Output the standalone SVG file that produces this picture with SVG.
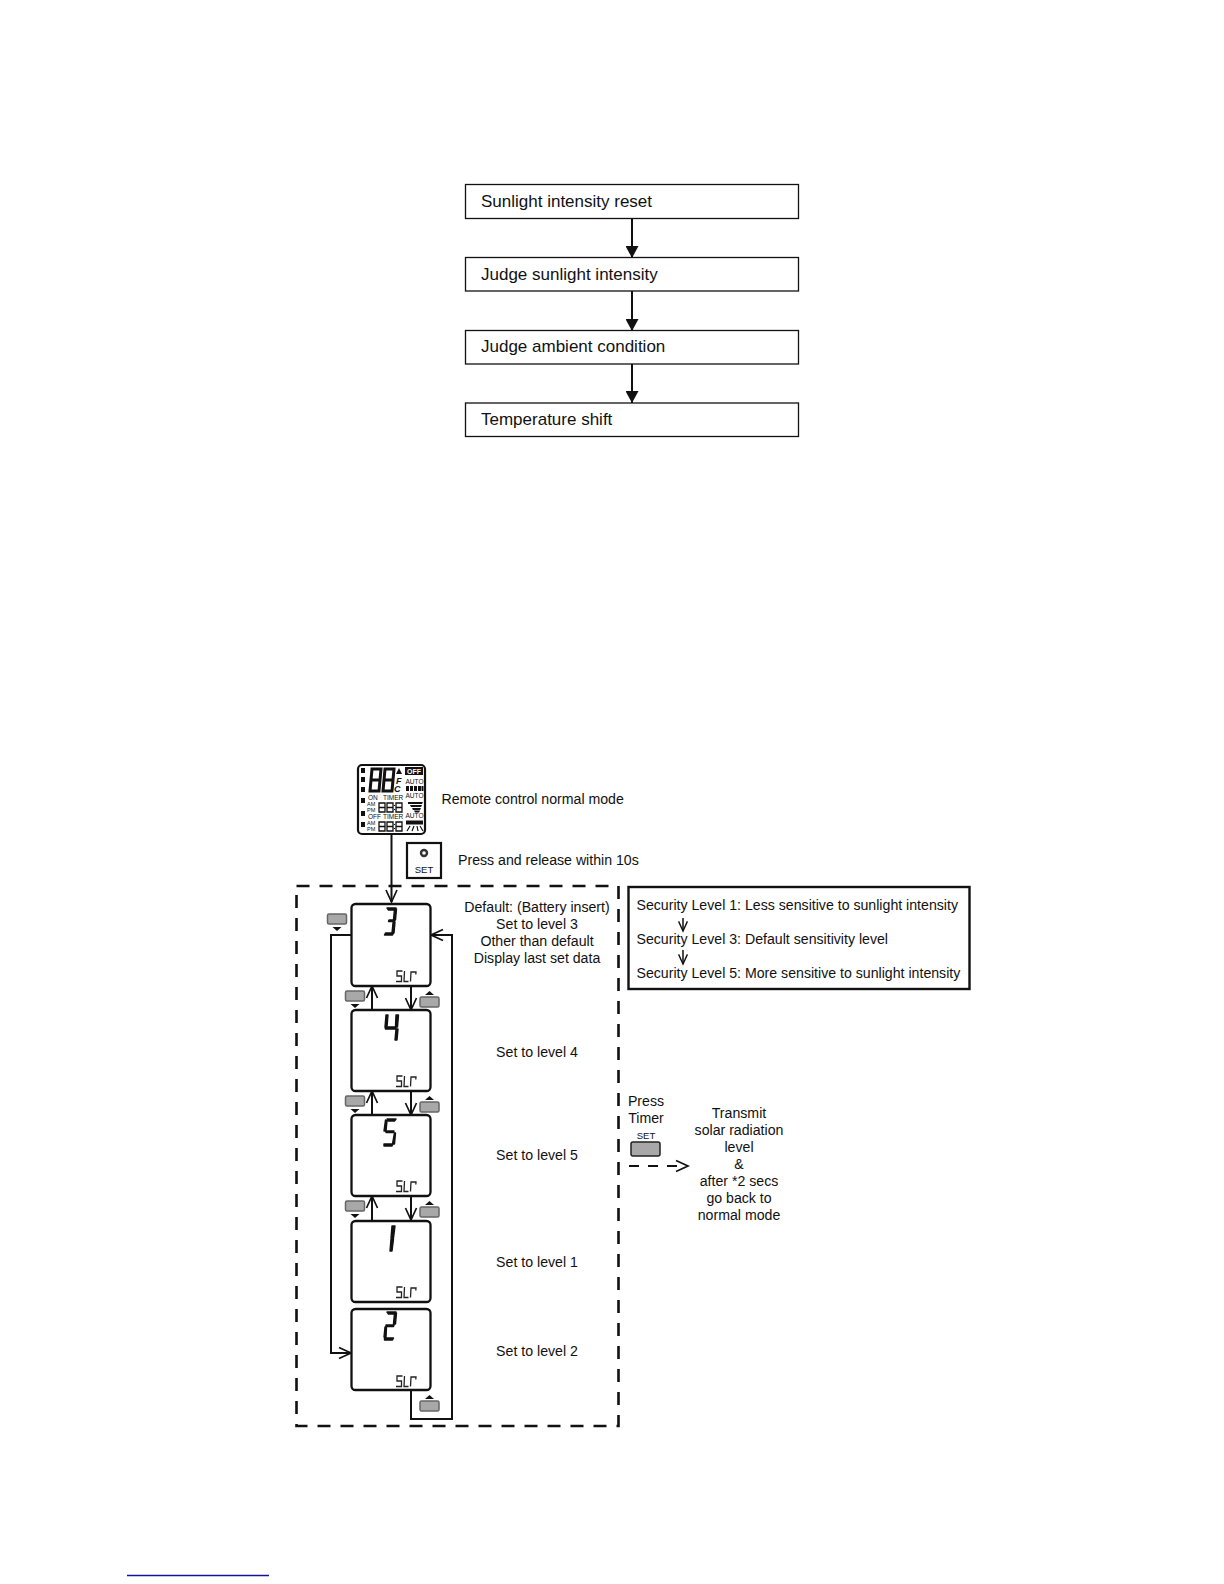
<svg xmlns="http://www.w3.org/2000/svg" width="1224" height="1584" viewBox="0 0 1224 1584">
<defs>
<style>
text{font-family:"Liberation Sans",Arial,sans-serif;fill:#111}
.t16{font-size:17px}
.t14{font-size:14.150px}
.m{text-anchor:middle}
.box{fill:#fff;stroke:#111;stroke-width:1.3}
.lcd{fill:#fff;stroke:#111;stroke-width:2.300}
.ln{fill:none;stroke:#111;stroke-width:2}
.seg{fill:#111}
.dig{fill:#111;stroke:#111;stroke-width:1.400;stroke-linejoin:round}
.slr{fill:none;stroke:#222;stroke-width:1.300}
.btn{fill:#a8a8a8;stroke:#666;stroke-width:1.500}
.tri{fill:#111}
.dash{fill:none;stroke:#111;stroke-width:2.600;stroke-dasharray:13 10}
.big{fill:none;stroke:#111;stroke-width:3}
.sm{fill:none;stroke:#111;stroke-width:1.300}
</style>
<marker id="solid" markerUnits="userSpaceOnUse" markerWidth="14" markerHeight="13" refX="12" refY="6.500" orient="auto"><path d="M0 0L12 6.500L0 13Z" fill="#111"/></marker>
<path id="open" d="M-5.500 -12L0 0L5.500 -12" fill="none" stroke="#111" stroke-width="1.700"/>
<g id="slr"><path class="slr" d="M6.500 0H1V5H5.500V10.500H0M8.500 0L8 10.500H12.500M14.500 10.500L15 1H20L19.800 3.500"/></g>
<g id="btnA"><rect class="btn" x="-9" y="-5" width="19" height="10" rx="1.500"/><path class="tri" d="M-4 -7L0.500 -11L5 -7Z"/></g>
<g id="btnV"><rect class="btn" x="-9" y="-5" width="19" height="10" rx="1.500"/><path class="tri" d="M-4 8L0.500 12L5 8Z"/></g>
</defs>
<rect width="1224" height="1584" fill="#fff"/>

<g id="connectors">
<path class="ln" d="M632 218V258" marker-end="url(#solid)"/>
<path class="ln" d="M632 291V331" marker-end="url(#solid)"/>
<path class="ln" d="M632 364V403" marker-end="url(#solid)"/>
<path class="ln" d="M391.500 834V902"/><use href="#open" x="391.500" y="902"/>
<path class="ln" d="M351 935H331V1353H351"/><use href="#open" transform="translate(351 1353) rotate(-90)"/>
<path class="ln" d="M411 1390V1419H452V935H431"/><use href="#open" transform="translate(431 935) rotate(90)"/>
<path class="ln" d="M372 1010V986"/><use href="#open" transform="translate(372 986) rotate(180)"/>
<path class="ln" d="M372 1115V1091"/><use href="#open" transform="translate(372 1091) rotate(180)"/>
<path class="ln" d="M372 1220V1196"/><use href="#open" transform="translate(372 1196) rotate(180)"/>
<path class="ln" d="M411 986V1010"/><use href="#open" x="411" y="1010"/>
<path class="ln" d="M411 1091V1115"/><use href="#open" x="411" y="1115"/>
<path class="ln" d="M411 1196V1220"/><use href="#open" x="411" y="1220"/>
<path d="M629 1166H686" fill="none" stroke="#111" stroke-width="1.800" stroke-dasharray="10 9"/><use href="#open" transform="translate(688 1166) rotate(-90)"/>
</g>

<g id="n1"><rect class="box" x="465.500" y="184.500" width="333" height="34"/><text class="t16" x="481" y="207">Sunlight intensity reset</text></g>
<g id="n2"><rect class="box" x="465.500" y="257.500" width="333" height="33.500"/><text class="t16" x="481" y="279.500">Judge sunlight intensity</text></g>
<g id="n3"><rect class="box" x="465.500" y="330.500" width="333" height="33.500"/><text class="t16" x="481" y="352">Judge ambient condition</text></g>
<g id="n4"><rect class="box" x="465.500" y="403" width="333" height="33.500"/><text class="t16" x="481" y="425">Temperature shift</text></g>

<g id="remote">
<rect x="358" y="765" width="67" height="69" rx="4" fill="#fff" stroke="#111" stroke-width="2.200"/>
<path class="seg" d="M361 768h4v5h-4zM361 777h4v5h-4zM361 787h4v5h-4zM361 798h4v5h-4zM361 811h4v5h-4zM361 822h4v5h-4z"/>
<path class="big" d="M372 769h9l-2 22h-9zM371 780h9M385 769h9l-2 22h-9zM384 780h9"/>
<path class="seg" d="M396 774l3-6 3 6z"/>
<text x="396" y="784" style="font-size:9px;font-style:italic;font-weight:bold">F</text>
<text x="394" y="792" style="font-size:9px;font-style:italic;font-weight:bold">C</text>
<rect x="405" y="767" width="18" height="8" fill="#111"/>
<text x="414" y="774" class="m" style="font-size:7px;fill:#fff;font-weight:bold">OFF</text>
<text x="414.500" y="784" class="m" style="font-size:6.500px">AUTO</text>
<path class="seg" d="M406 786h3v5h-3zM410 786h3v5h-3zM414 786h3v5h-3zM418 786h3v5h-3zM421.500 786h2v5h-2z"/>
<text x="368" y="800" style="font-size:6.500px">ON</text><text x="383" y="800" style="font-size:6.500px">TIMER</text>
<text x="414.500" y="798" class="m" style="font-size:6.500px">AUTO</text>
<path class="seg" d="M408 802h15l-1 2h-14zM410 805h12l-1 2h-10zM412 808h9l-1 2h-7zM414 810.500h6l-1 2h-4z"/>
<text x="367" y="805.500" style="font-size:5.500px">AM</text><text x="367" y="811.500" style="font-size:5.500px">PM</text>
<path class="sm" d="M379 803h6v9h-6zM379 807.500h6M387 803h6v9h-6zM387 807.500h6M396 803h6v9h-6zM396 807.500h6"/>
<path class="seg" d="M394 805h1v1h-1zM394 809h1v1h-1z"/>
<text x="368" y="819" style="font-size:6.500px">OFF</text><text x="383" y="819" style="font-size:6.500px">TIMER</text>
<text x="414.500" y="818" class="m" style="font-size:6.500px">AUTO</text>
<rect x="406" y="820.500" width="17" height="4" fill="#111"/>
<path d="M407 831l3-5M412 831l2-5M418 831l-1-5M423 831l-3-5" fill="none" stroke="#111" stroke-width="1.200"/>
<text x="367" y="825" style="font-size:5.500px">AM</text><text x="367" y="831" style="font-size:5.500px">PM</text>
<path class="sm" d="M379 822h6v9h-6zM379 826.500h6M387 822h6v9h-6zM387 826.500h6M396 822h6v9h-6zM396 826.500h6"/>
<path class="seg" d="M394 824h1v1h-1zM394 828h1v1h-1z"/>
</g>
<text class="t14" x="441.500" y="804">Remote control normal mode</text>

<g id="set-button">
<rect x="407" y="843" width="34" height="35" fill="#fff" stroke="#111" stroke-width="2.200"/>
<circle cx="424" cy="853" r="3" fill="none" stroke="#333" stroke-width="2.400"/>
<text x="424" y="873" class="m" style="font-size:9.500px">SET</text>
</g>
<text class="t14" x="458" y="865">Press and release within 10s</text>

<rect class="dash" x="296.500" y="886" width="322" height="540"/>

<g id="lvl3">
<rect class="lcd" x="351.500" y="904" width="79" height="82" rx="4"/>
<path class="dig" d="M387 908h9l-1.500 2h-6zM396.500 909l-1 11h-2l.8-9zM389 920h6l-.5 1.500h-6zM395 922l-1 11h-2l1-10zM385.500 933h8l-1 2h-8z"/>
<use href="#slr" x="396" y="971"/>
</g>
<g id="lvl4">
<rect class="lcd" x="351.500" y="1010" width="79" height="81" rx="4"/>
<path class="dig" d="M386 1015h2l-1 12h-2zM385 1027h11l-.5 2h-10zM396 1015h2.500l-1 12h-2zM396 1029h2l-1 11h-2z"/>
<use href="#slr" x="396" y="1076"/>
</g>
<g id="lvl5">
<rect class="lcd" x="351.500" y="1115" width="79" height="81" rx="4"/>
<path class="dig" d="M387 1119h9l-1.500 2h-6zM385.500 1120l1.500 1-1 10h-2zM386 1131h8l-.5 1.500h-7.500zM394.500 1133l1 0-1 11h-2zM384 1144h9l-1 2h-8z"/>
<use href="#slr" x="396" y="1181"/>
</g>
<g id="lvl1">
<rect class="lcd" x="351.500" y="1221" width="79" height="81" rx="4"/>
<path class="dig" d="M392 1226h3l-1.500 12h-2.500zM391 1239h2.500l-1.500 12h-2z"/>
<use href="#slr" x="396" y="1287"/>
</g>
<g id="lvl2">
<rect class="lcd" x="351.500" y="1309" width="79" height="81" rx="4"/>
<path class="dig" d="M387 1312h9l-1.500 2h-6zM396.500 1313l-1 11h-2l.8-9zM386 1325h8l-.5 1.500h-7.500zM385 1327l1.500 0-.5 10h-2zM384.500 1338h9l-1 2h-8z"/>
<use href="#slr" x="396" y="1376"/>
</g>

<g id="buttons">
<use href="#btnV" x="336.500" y="919"/>
<use href="#btnV" x="354.500" y="996"/>
<use href="#btnV" x="354.500" y="1101"/>
<use href="#btnV" x="354.500" y="1206"/>
<use href="#btnA" x="429" y="1002"/>
<use href="#btnA" x="429" y="1107"/>
<use href="#btnA" x="429" y="1212"/>
<use href="#btnA" x="429" y="1406"/>
</g>

<text class="t14 m" x="537" y="912">Default: (Battery insert)</text>
<text class="t14 m" x="537" y="929">Set to level 3</text>
<text class="t14 m" x="537" y="946">Other than default</text>
<text class="t14 m" x="537" y="963">Display last set data</text>
<text class="t14 m" x="537" y="1057">Set to level 4</text>
<text class="t14 m" x="537" y="1160">Set to level 5</text>
<text class="t14 m" x="537" y="1267">Set to level 1</text>
<text class="t14 m" x="537" y="1356">Set to level 2</text>

<g id="security">
<rect x="628.500" y="887" width="341" height="102" fill="#fff" stroke="#111" stroke-width="2.400"/>
<text class="t14" x="636.500" y="909.500">Security Level 1: Less sensitive to sunlight intensity</text>
<text class="t14" x="636.500" y="943.500">Security Level 3: Default sensitivity level</text>
<text class="t14" x="636.500" y="977.500">Security Level 5: More sensitive to sunlight intensity</text>
<path class="ln" style="stroke-width:1.500" d="M683 918V931"/><use href="#open" transform="translate(683 931) scale(.8)"/>
<path class="ln" style="stroke-width:1.500" d="M683 950V964"/><use href="#open" transform="translate(683 964) scale(.8)"/>
</g>

<g id="press-timer">
<text class="t14 m" x="646" y="1106">Press</text>
<text class="t14 m" x="646" y="1123">Timer</text>
<text x="646" y="1138.500" class="m" style="font-size:9.500px">SET</text>
<rect class="btn" x="631" y="1142" width="29" height="14" rx="2" style="stroke:#222"/>
</g>
<g id="transmit">
<text class="t14 m" x="739" y="1118">Transmit</text>
<text class="t14 m" x="739" y="1135">solar radiation</text>
<text class="t14 m" x="739" y="1152">level</text>
<text class="t14 m" x="739" y="1169">&amp;</text>
<text class="t14 m" x="739" y="1186">after *2 secs</text>
<text class="t14 m" x="739" y="1203">go back to</text>
<text class="t14 m" x="739" y="1220">normal mode</text>
</g>
<path d="M127 1575.500H269" stroke="#14149a" stroke-width="1.400"/>
</svg>
